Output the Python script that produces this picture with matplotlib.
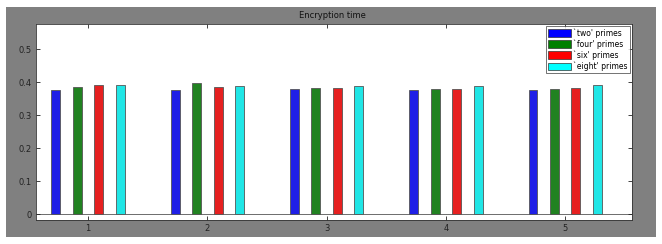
import matplotlib
matplotlib.use("Agg")
import matplotlib.pyplot as plt
import numpy as np
from matplotlib.patches import Rectangle

groups = [1, 2, 3, 4, 5]
series_names = ["`two' primes", "`four' primes", "`six' primes", "`eight' primes"]
two = [0.376, 0.376, 0.380, 0.378, 0.377]
four = [0.385, 0.398, 0.382, 0.380, 0.380]
six = [0.392, 0.385, 0.384, 0.381, 0.383]
eight = [0.392, 0.390, 0.390, 0.390, 0.391]
series = [two, four, six, eight]
colors = ["#1f1fe6", "#218221", "#e62020", "#20e6e6"]
legend_colors = ["#0000ff", "#008000", "#ff0000", "#00ffff"]
offsets = [-0.27, -0.09, 0.09, 0.27]
yticks = [0, 0.1, 0.2, 0.3, 0.4, 0.5]
ytick_labels = ["0", "0.1", "0.2", "0.3", "0.4", "0.5"]

fig = plt.figure(figsize=(6.62, 2.44), dpi=100)
fig.patch.set_facecolor("white")
W, H = 662, 244
fig.add_artist(Rectangle((6 / W, 1 - 237 / H), 650 / W, 230 / H,
                         transform=fig.transFigure, facecolor="#808080",
                         edgecolor="none", zorder=0))

ax = fig.add_axes([36 / W, 1 - 220 / H, 596 / W, 196 / H])
ax.set_facecolor("white")
x = np.array(groups, dtype=float)
handles = []
for vals, c, lc, off, name in zip(series, colors, legend_colors, offsets, series_names):
    ax.bar(x + off, vals, width=0.075, color=c, edgecolor="#555555", linewidth=0.6)
    handles.append(Rectangle((0, 0), 1, 1, facecolor=lc, edgecolor="#333333", linewidth=0.5, label=name))

ax.axhline(0, color="#555555", linewidth=0.6, zorder=0.5)
ax.set_xlim(0.564, 5.56)
ax.set_ylim(-0.017, 0.577)
ax.set_xticks(groups)
ax.set_xticklabels([str(g) for g in groups])
ax.set_yticks(yticks)
ax.set_yticklabels(ytick_labels)
ax.tick_params(direction="in", length=3, width=0.6, labelsize=6, colors="#222222",
               top=True, right=True, pad=3)
for s in ax.spines.values():
    s.set_linewidth(0.6)
    s.set_color("#333333")

fig.text(332 / W, 1 - 16 / H, "Encryption time", ha="center", va="center",
         fontsize=6, color="#111111")

leg = ax.legend(handles=handles, loc="upper right", fontsize=5.5, frameon=True,
                fancybox=False, edgecolor="#333333", handlelength=3.0,
                handleheight=1.1, handletextpad=0.3, labelspacing=0.2,
                borderpad=0.3, borderaxespad=0.25)
leg.get_frame().set_linewidth(0.6)

fig.savefig("out.png", dpi=100, facecolor="white")
